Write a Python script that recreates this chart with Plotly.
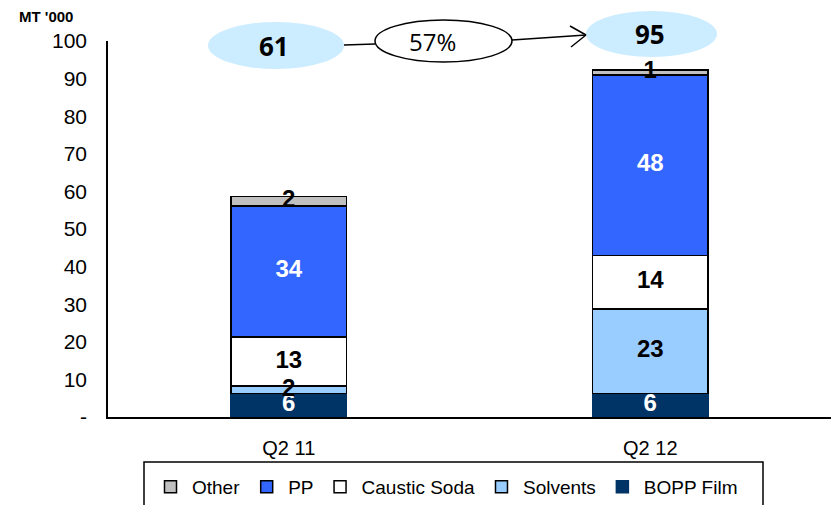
import plotly.graph_objects as go

categories = ["Q2 11", "Q2 12"]
series_names = ["BOPP Film", "Solvents", "Caustic Soda", "PP", "Other"]
bopp = [6.3, 6.3]
solvents = [1.9, 22.4]
caustic = [13.1, 14.3]
pp = [34.8, 48.0]
other = [2.6, 1.3]
bopp_lbl = ["6", "6"]
solvents_lbl = ["2", "23"]
caustic_lbl = ["13", "14"]
pp_lbl = ["34", "48"]
other_lbl = ["2", "1"]
totals_lbl = ["61", "95"]
growth_lbl = "57%"
y_ticks = [0, 10, 20, 30, 40, 50, 60, 70, 80, 90, 100]
y_ticktext = ["-", "10", "20", "30", "40", "50", "60", "70", "80", "90", "100"]

colors = ["#003366", "#99CCFF", "#FFFFFF", "#3366FF", "#C0C0C0"]
text_colors = ["white", "black", "black", "white", "black"]
values = [bopp, solvents, caustic, pp, other]
labels = [bopp_lbl, solvents_lbl, caustic_lbl, pp_lbl, other_lbl]

FONT = "Liberation Sans, Arial"

fig = go.Figure()
for name, v, c in zip(series_names, values, colors):
    fig.add_trace(go.Bar(
        x=categories, y=v, name=name, hoverinfo="x+y+name",
        marker=dict(color=c, line=dict(color="#003366" if name == "BOPP Film" else "black", width=1.5)),
        width=0.32,
    ))

# Segment labels drawn on top of all bars, at each segment's middle
base = [0.0] * len(categories)
for v, lbl, tc in zip(values, labels, text_colors):
    mids = [b + val / 2 for b, val in zip(base, v)]
    fig.add_trace(go.Scatter(
        x=categories, y=mids, text=lbl, mode="text",
        textposition="middle center", showlegend=False, hoverinfo="skip",
        textfont=dict(family=FONT, size=24, color=tc, weight="bold"),
        cliponaxis=False,
    ))
    base = [b + val for b, val in zip(base, v)]

def px_x(p):
    return (p - 108) / 723.0

def px_y(p):
    return (417 - p) / 376.0

fig.update_layout(
    barmode="stack",
    width=831, height=505,
    margin=dict(l=108, r=0, t=41, b=88, autoexpand=False),
    plot_bgcolor="white", paper_bgcolor="white",
    font=dict(family=FONT, color="black"),
    showlegend=True,
    legend=dict(
        orientation="h", traceorder="reversed",
        x=px_x(149), xanchor="left", y=px_y(468), yanchor="top",
        borderwidth=0, bgcolor="rgba(0,0,0,0)",
        font=dict(size=19, family=FONT),
        itemwidth=33,
    ),
    xaxis=dict(
        showline=True, linecolor="black", linewidth=1.5,
        tickfont=dict(size=20), ticks="", range=[-0.5, 1.5],
        ticklabelstandoff=12,
    ),
    yaxis=dict(
        range=[0, 100], tickvals=y_ticks, ticktext=y_ticktext,
        showline=True, linecolor="black", linewidth=1.5,
        showgrid=False, zeroline=False, ticks="",
        tickfont=dict(size=21), ticklabelstandoff=15,
    ),
)

# Legend frame
fig.add_shape(type="rect", xref="paper", yref="paper",
              x0=px_x(144), x1=px_x(763), y0=px_y(515), y1=px_y(462),
              line=dict(color="black", width=1.5), fillcolor="white", layer="below")

# Title
fig.add_annotation(text="<b>MT '000</b>", xref="paper", yref="paper",
                   x=px_x(17), y=px_y(16), xanchor="left", yanchor="middle",
                   showarrow=False, font=dict(size=15, family=FONT))

# Total bubbles
bubbles = [(208, 344, 22, 69), (586, 717, 11, 57)]
for (x0, x1, y0, y1), t in zip(bubbles, totals_lbl):
    fig.add_shape(type="circle", xref="paper", yref="paper",
                  x0=px_x(x0), x1=px_x(x1), y0=px_y(y1), y1=px_y(y0),
                  fillcolor="#CCECFF", line=dict(width=0), layer="above")
    fig.add_annotation(text="<b>" + t + "</b>", xref="paper", yref="paper",
                       x=px_x((x0 + x1) / 2 - 2), y=px_y((y0 + y1) / 2),
                       xanchor="center", yanchor="middle",
                       showarrow=False, font=dict(size=26, family="Open Sans"))

# Growth bubble
fig.add_shape(type="circle", xref="paper", yref="paper",
              x0=px_x(375), x1=px_x(512), y0=px_y(62), y1=px_y(20),
              fillcolor="white", line=dict(color="black", width=1.5), layer="above")
fig.add_annotation(text=growth_lbl, xref="paper", yref="paper",
                   x=px_x(432), y=px_y(41), xanchor="center", yanchor="middle",
                   showarrow=False, font=dict(size=24, family="Open Sans"))

# Connector lines
line_style = dict(color="black", width=1.5)
for (a, b, c, d) in [(344, 45, 375, 44), (512, 40, 586, 35), (570, 26, 586, 35), (571, 47, 586, 35)]:
    fig.add_shape(type="line", xref="paper", yref="paper",
                  x0=px_x(a), y0=px_y(b), x1=px_x(c), y1=px_y(d),
                  line=line_style, layer="above")

fig.write_html("out.html")
